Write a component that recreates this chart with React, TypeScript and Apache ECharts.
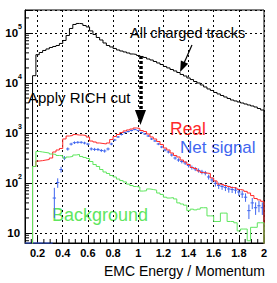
import { useEffect, useRef } from 'react';
import * as echarts from 'echarts';

const FONT = '"Liberation Sans", Arial, Helvetica, sans-serif';
const BLACK = '#000000';
const RED = '#ff2a2a';
const GREEN = '#5ee65e';
const BLUE = '#3f66f0';

// histogram binning: 75 bins over [0, 2]
const BIN_WIDTH = 2 / 75;
const HIST_FIRST_BIN = 6; // x = 0.16
const NET_FIRST_BIN = 3;
const X_MIN = 0.1;
const X_MAX = 2.0;
const Y_MIN = 6.31;
const Y_MAX = 2.88e5;
const FLOOR = 1; // below the axis: drawn clipped

// bins 6..74
const allChargedTracks = [
  14000, 36800, 40700, 44700, 47900, 51300, 53700, 56200, 61700, 70800,
  89100, 123000, 148000, 155000, 153000, 141000, 132000, 110000, 93300, 81300,
  72400, 63100, 56200, 52500, 49000, 45700, 43600, 41700, 39800, 38000,
  37200, 35500, 33900, 32400, 30200, 28800, 26900, 25100, 23400, 21400,
  20000, 18600, 17400, 16200, 14800, 13800, 12600, 11700, 10700, 10000,
  9120, 8320, 7590, 7080, 6460, 6030, 5620, 5250, 4900, 4570,
  4370, 4170, 3980, 3800, 3630, 3470, 3310, 3090, 2880,
];

const realTracks = [
  214, 275, 280, 288, 295, 316, 417, 457, 490, 760,
  870, 890, 930, 910, 910, 890, 830, 690, 661, 631,
  617, 603, 631, 741, 851, 933, 1020, 1100, 1150, 1200,
  1260, 1230, 1120, 1070, 955, 832, 759, 676, 589, 501,
  457, 398, 355, 331, 288, 263, 234, 204, 195, 174,
  162, 158, 155, 126, 110, 95, 93, 89, 85, 81,
  79, 74, 72, 68, 63, 56, 49, 46, 43,
];

const background = [
  214, 427, 417, 407, 398, 380, 372, 355, 350, 316,
  331, 339, 363, 372, 339, 324, 309, 269, 234, 214,
  186, 166, 155, 141, 132, 120, 112, 105, 95, 89,
  85, 83, 69, 70, 76, 74, 72, 63, 59, 52,
  50, 51, 48, 40, 38, 36, 28, 30, 29, 30,
  32, 32, 22, 22, 17, 17, 25, 25, 17, 17,
  16, 11, 12, 12, 7, 13, 13, 16, 16,
];

// bins 3..74 (0 = empty bin)
const netSignal = [
  0, 0, 0, 0, 0, 0, 0, 0, 0,
  50, 102, 186, 316, 479, 600, 640, 650, 650, 630,
  600, 480, 470, 468, 447, 437, 479, 603, 724, 832,
  933, 1020, 1070, 1120, 1175, 1120, 1020, 955, 871, 759,
  692, 603, 525, 457, 417, 363, 316, 288, 269, 251,
  224, 204, 191, 178, 166, 158, 132, 115, 98, 89,
  85, 81, 76, 74, 72, 66, 60, 52, 28, 40,
  32, 35, 32,
];

const netSignalError = [
  0, 0, 0, 0, 0, 0, 0, 0, 0,
  30, 22, 25, 30, 35, 38, 38, 38, 38, 38,
  36, 34, 33, 33, 32, 32, 33, 35, 37, 38,
  40, 41, 42, 43, 44, 43, 41, 40, 38, 36,
  34, 32, 30, 28, 27, 25, 24, 23, 22, 21,
  20, 19, 18, 17, 17, 16, 15, 14, 13, 13,
  12, 12, 12, 11, 11, 11, 10, 10, 9, 10,
  9, 9, 9,
];

const xMinorTicks = [
  0.15, 0.25, 0.3, 0.35, 0.45, 0.5, 0.55, 0.65, 0.7, 0.75, 0.85, 0.9, 0.95,
  1.05, 1.1, 1.15, 1.25, 1.3, 1.35, 1.45, 1.5, 1.55, 1.65, 1.7, 1.75, 1.85, 1.9, 1.95,
];
const yDecades = [1, 10, 100, 1000, 10000, 100000];
const yMinorMultipliers = [2, 3, 4, 5, 6, 7, 8, 9];

// annotation arrows (data coordinates)
const chargedArrow = { from: [1.4275, 57500], to: [1.3505, 20800] };
const richCutArrow = { from: [1.018, 34700], to: [1.018, 2040] };

function histData(values: number[], firstBin: number) {
  const pts: number[][] = [[X_MIN, FLOOR]];
  values.forEach((v, i) => pts.push([(firstBin + i) * BIN_WIDTH, v > 0 ? v : FLOOR]));
  pts.push([X_MAX, values[values.length - 1]]);
  pts.push([X_MAX, FLOOR]);
  return pts;
}

function histSeries(name: string, values: number[], color: string, extra: any = {}) {
  return {
    name,
    type: 'line',
    step: 'end',
    data: histData(values, HIST_FIRST_BIN),
    showSymbol: false,
    symbol: 'none',
    clip: true,
    silent: true,
    lineStyle: { color, width: 1 },
    ...extra,
  };
}

const yMinorTicks = yDecades
  .flatMap((d) => yMinorMultipliers.map((m) => m * d))
  .filter((v) => v > Y_MIN && v < Y_MAX);

export default function App() {
  const ref = useRef<HTMLDivElement>(null);

  useEffect(() => {
    document.body.style.margin = '0';
    const chart = echarts.init(ref.current!, null, { renderer: 'svg' });

    const netData = netSignal.map((v, i) => {
      const bin = NET_FIRST_BIN + i;
      return [bin * BIN_WIDTH, (bin + 1) * BIN_WIDTH, v, netSignalError[i]];
    });

    const option: any = {
      animation: false,
      backgroundColor: '#ffffff',
      grid: {
        left: 25,
        right: 13,
        top: 10,
        bottom: 40,
        show: true,
        borderColor: BLACK,
        borderWidth: 1,
        backgroundColor: 'transparent',
        outerBoundsMode: 'none',
      },
      xAxis: {
        type: 'value',
        min: X_MIN,
        max: X_MAX,
        splitNumber: 10,
        name: 'EMC Energy / Momentum',
        nameLocation: 'end',
        nameGap: 1,
        nameMoveOverlap: false,
        nameTextStyle: {
          fontFamily: FONT,
          fontSize: 14,
          color: BLACK,
          align: 'right',
          verticalAlign: 'top',
          padding: [21, 0, 0, 0],
        },
        axisLine: { show: true, onZero: false, lineStyle: { color: BLACK, width: 1 } },
        axisTick: { show: true, inside: true, length: 8, lineStyle: { color: BLACK, width: 1 } },
        axisLabel: {
          show: true,
          margin: 4,
          color: BLACK,
          fontFamily: FONT,
          fontWeight: 'bold',
          fontSize: 11,
          showMinLabel: true,
          showMaxLabel: true,
          hideOverlap: false,
          formatter: (v: number) => (Math.abs(v - X_MIN) < 1e-6 ? '' : String(+v.toFixed(1))),
        },
        splitLine: { show: true, lineStyle: { color: BLACK, width: 1, type: [2, 3] } },
      },
      yAxis: {
        type: 'log',
        logBase: 10,
        min: Y_MIN,
        max: Y_MAX,
        axisLine: { show: true, lineStyle: { color: BLACK, width: 1 } },
        axisTick: { show: true, inside: true, length: 8, lineStyle: { color: BLACK, width: 1 } },
        axisLabel: {
          show: true,
          margin: 3,
          color: BLACK,
          showMinLabel: true,
          showMaxLabel: true,
          hideOverlap: false,
          formatter: (v: number) => {
            const e = Math.log10(v);
            const r = Math.round(e);
            if (Math.abs(e - r) > 1e-6) return '';
            return r === 1 ? '{b|10}{s| }' : `{b|10}{s|${r}}`;
          },
          rich: {
            b: { fontSize: 11.5, fontWeight: 'bold', fontFamily: FONT, color: BLACK, lineHeight: 20, verticalAlign: 'middle' },
            s: { fontSize: 7, fontWeight: 'bold', fontFamily: FONT, color: BLACK, lineHeight: 8, verticalAlign: 'top' },
          },
        },
        splitLine: { show: true, lineStyle: { color: BLACK, width: 1, type: [2, 3] } },
      },
      series: [
        histSeries('All charged tracks', allChargedTracks, BLACK, {
          markLine: {
            silent: true,
            symbol: ['none', 'triangle'],
            symbolSize: [8, 11],
            label: { show: false },
            emphasis: { disabled: true },
            lineStyle: { color: BLACK, width: 1.2, type: 'solid' },
            data: [[{ coord: chargedArrow.from }, { coord: chargedArrow.to }]],
          },
        }),
        histSeries('Real', realTracks, RED, {
          markLine: {
            silent: true,
            symbol: ['none', 'triangle'],
            symbolSize: [11, 15],
            label: { show: false },
            emphasis: { disabled: true },
            lineStyle: { color: BLACK, width: 3.5, type: [3, 2] },
            data: [[{ coord: richCutArrow.from }, { coord: richCutArrow.to }]],
          },
        }),
        histSeries('Background', background, GREEN),
        {
          name: 'Net signal',
          type: 'custom',
          silent: true,
          clip: false,
          data: netData,
          encode: { x: [0, 1], y: 2 },
          renderItem: (_p: any, api: any) => {
            const x0 = api.value(0);
            const x1 = api.value(1);
            const v = api.value(2);
            const e = api.value(3);
            const y = v > 0 ? v : Y_MIN;
            const pL = api.coord([Math.max(x0, X_MIN), y]);
            const pR = api.coord([x1, y]);
            const children: any[] = [
              { type: 'line', shape: { x1: pL[0], y1: pL[1], x2: pR[0], y2: pR[1] }, style: { stroke: BLUE, lineWidth: 1 } },
            ];
            if (v > 0 && e > 0) {
              const xc = (x0 + x1) / 2;
              const pT = api.coord([xc, v + e]);
              const pB = api.coord([xc, Math.max(v - e, Y_MIN)]);
              children.push({ type: 'line', shape: { x1: pT[0], y1: pT[1], x2: pB[0], y2: pB[1] }, style: { stroke: BLUE, lineWidth: 1 } });
            }
            return { type: 'group', children };
          },
        },
        {
          type: 'custom',
          silent: true,
          clip: false,
          data: xMinorTicks.map((v) => [v, Y_MIN]),
          encode: { x: 0, y: 1 },
          renderItem: (_p: any, api: any) => {
            const p = api.coord([api.value(0), Y_MIN]);
            return { type: 'line', shape: { x1: p[0], y1: p[1], x2: p[0], y2: p[1] - 4 }, style: { stroke: BLACK, lineWidth: 1 } };
          },
        },
        {
          type: 'custom',
          silent: true,
          clip: false,
          data: yMinorTicks.map((v) => [X_MIN, v]),
          encode: { x: 0, y: 1 },
          renderItem: (_p: any, api: any) => {
            const p = api.coord([X_MIN, api.value(1)]);
            return { type: 'line', shape: { x1: p[0], y1: p[1], x2: p[0] + 4, y2: p[1] }, style: { stroke: BLACK, lineWidth: 1 } };
          },
        },
      ],
      graphic: [
        { type: 'text', x: 130, y: 33, silent: true, style: { text: 'All charged tracks', fontFamily: FONT, fontSize: 14.5, fill: BLACK, verticalAlign: 'middle' } },
        { type: 'text', x: 28, y: 97, silent: true, style: { text: 'Apply RICH cut', fontFamily: FONT, fontSize: 15, fill: BLACK, verticalAlign: 'middle' } },
        { type: 'text', x: 170, y: 129, silent: true, style: { text: 'Real', fontFamily: FONT, fontSize: 17.5, fill: RED, verticalAlign: 'middle' } },
        { type: 'text', x: 180, y: 147, silent: true, style: { text: 'Net signal', fontFamily: FONT, fontSize: 17, fill: BLUE, verticalAlign: 'middle' } },
        { type: 'text', x: 52, y: 214.5, silent: true, style: { text: 'Background', fontFamily: FONT, fontSize: 18, fill: GREEN, verticalAlign: 'middle' } },
      ],
    };

    chart.setOption(option);
    return () => chart.dispose();
  }, []);

  return <div ref={ref} style={{ width: 277, height: 283 }} />;
}
